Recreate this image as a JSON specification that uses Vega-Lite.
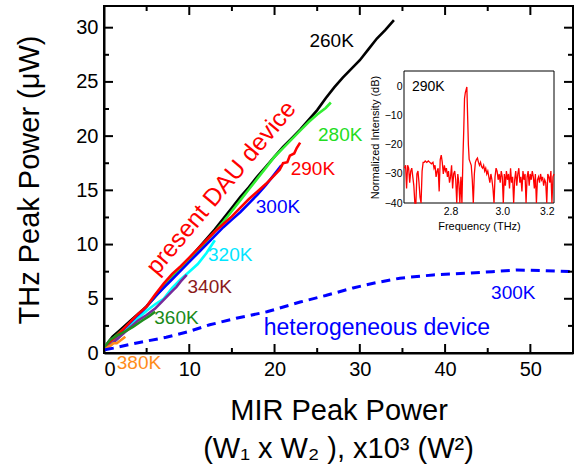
{
  "$schema": "https://vega.github.io/schema/vega-lite/v6.json",
  "width": 469,
  "height": 347,
  "autosize": {"type": "none"},
  "padding": {"left": 104, "top": 6, "right": 6, "bottom": 117},
  "config": {
    "font": "Liberation Sans",
    "view": {"stroke": null},
    "tick": {"opacity": 1},
    "axis": {"grid": false, "domainColor": "black", "tickColor": "black", "labelColor": "black", "titleColor": "black", "titleFontWeight": "normal", "labelFont": "Liberation Sans", "titleFont": "Liberation Sans"}
  },
  "title": {"text": "(W₁ x W₂ ), x10³ (W²)", "orient": "bottom", "fontSize": 29, "fontWeight": "normal", "font": "Liberation Sans", "color": "black", "offset": 10},
  "datasets": {
    "curves": [
      {"s": "260K", "x": 0, "y": 0.3}, {"s": "260K", "x": 0.5, "y": 1.0}, {"s": "260K", "x": 1, "y": 1.5}, {"s": "260K", "x": 2, "y": 2.2}, {"s": "260K", "x": 3, "y": 2.9}, {"s": "260K", "x": 4, "y": 3.6}, {"s": "260K", "x": 5, "y": 4.3}, {"s": "260K", "x": 6, "y": 5.2}, {"s": "260K", "x": 7, "y": 6.1}, {"s": "260K", "x": 8, "y": 7.0}, {"s": "260K", "x": 9, "y": 7.9}, {"s": "260K", "x": 10, "y": 8.7}, {"s": "260K", "x": 11, "y": 9.6}, {"s": "260K", "x": 12, "y": 10.5}, {"s": "260K", "x": 13, "y": 11.4}, {"s": "260K", "x": 14, "y": 12.4}, {"s": "260K", "x": 15, "y": 13.4}, {"s": "260K", "x": 16, "y": 14.4}, {"s": "260K", "x": 17, "y": 15.3}, {"s": "260K", "x": 18, "y": 16.3}, {"s": "260K", "x": 19, "y": 17.2}, {"s": "260K", "x": 20, "y": 18.1}, {"s": "260K", "x": 21, "y": 19.0}, {"s": "260K", "x": 22, "y": 19.8}, {"s": "260K", "x": 23, "y": 20.6}, {"s": "260K", "x": 24, "y": 21.5}, {"s": "260K", "x": 25, "y": 22.4}, {"s": "260K", "x": 26, "y": 23.5}, {"s": "260K", "x": 27, "y": 24.5}, {"s": "260K", "x": 28, "y": 25.4}, {"s": "260K", "x": 29, "y": 26.2}, {"s": "260K", "x": 30, "y": 27.0}, {"s": "260K", "x": 31, "y": 28.0}, {"s": "260K", "x": 32, "y": 29.0}, {"s": "260K", "x": 33, "y": 29.8}, {"s": "260K", "x": 34, "y": 30.7},
      {"s": "280K", "x": 0, "y": 0.5}, {"s": "280K", "x": 1, "y": 1.3}, {"s": "280K", "x": 2, "y": 2.0}, {"s": "280K", "x": 3, "y": 2.7}, {"s": "280K", "x": 4, "y": 3.5}, {"s": "280K", "x": 5, "y": 4.3}, {"s": "280K", "x": 6, "y": 5.2}, {"s": "280K", "x": 7, "y": 6.1}, {"s": "280K", "x": 8, "y": 7.0}, {"s": "280K", "x": 9, "y": 7.8}, {"s": "280K", "x": 10, "y": 8.6}, {"s": "280K", "x": 11, "y": 9.4}, {"s": "280K", "x": 12, "y": 10.3}, {"s": "280K", "x": 13, "y": 11.2}, {"s": "280K", "x": 14, "y": 12.1}, {"s": "280K", "x": 15, "y": 13.1}, {"s": "280K", "x": 16, "y": 14.1}, {"s": "280K", "x": 17, "y": 15.1}, {"s": "280K", "x": 18, "y": 16.1}, {"s": "280K", "x": 19, "y": 17.1}, {"s": "280K", "x": 20, "y": 18.1}, {"s": "280K", "x": 21, "y": 18.9}, {"s": "280K", "x": 22, "y": 19.7}, {"s": "280K", "x": 23, "y": 20.5}, {"s": "280K", "x": 24, "y": 21.3}, {"s": "280K", "x": 25, "y": 22.0}, {"s": "280K", "x": 26, "y": 22.6}, {"s": "280K", "x": 26.6, "y": 23.1},
      {"s": "300K", "x": 0, "y": 0.3}, {"s": "300K", "x": 1, "y": 1.0}, {"s": "300K", "x": 2, "y": 1.8}, {"s": "300K", "x": 3, "y": 2.6}, {"s": "300K", "x": 4, "y": 3.4}, {"s": "300K", "x": 5, "y": 4.3}, {"s": "300K", "x": 6, "y": 5.2}, {"s": "300K", "x": 7, "y": 6.0}, {"s": "300K", "x": 8, "y": 6.8}, {"s": "300K", "x": 9, "y": 7.6}, {"s": "300K", "x": 10, "y": 8.4}, {"s": "300K", "x": 11, "y": 9.2}, {"s": "300K", "x": 12, "y": 10.0}, {"s": "300K", "x": 13, "y": 10.8}, {"s": "300K", "x": 14, "y": 11.6}, {"s": "300K", "x": 15, "y": 12.3}, {"s": "300K", "x": 16, "y": 13.0}, {"s": "300K", "x": 17, "y": 13.8}, {"s": "300K", "x": 18, "y": 14.6}, {"s": "300K", "x": 19, "y": 15.5}, {"s": "300K", "x": 20, "y": 16.5}, {"s": "300K", "x": 20.8, "y": 17.3},
      {"s": "290K", "x": 0, "y": 0.4}, {"s": "290K", "x": 1, "y": 1.2}, {"s": "290K", "x": 2, "y": 2.0}, {"s": "290K", "x": 3, "y": 2.8}, {"s": "290K", "x": 4, "y": 3.6}, {"s": "290K", "x": 5, "y": 4.3}, {"s": "290K", "x": 6, "y": 5.4}, {"s": "290K", "x": 7, "y": 6.4}, {"s": "290K", "x": 8, "y": 7.3}, {"s": "290K", "x": 9, "y": 8.0}, {"s": "290K", "x": 10, "y": 8.8}, {"s": "290K", "x": 11, "y": 9.6}, {"s": "290K", "x": 12, "y": 10.4}, {"s": "290K", "x": 13, "y": 11.2}, {"s": "290K", "x": 14, "y": 11.9}, {"s": "290K", "x": 15, "y": 12.6}, {"s": "290K", "x": 16, "y": 13.4}, {"s": "290K", "x": 17, "y": 14.2}, {"s": "290K", "x": 18, "y": 14.9}, {"s": "290K", "x": 19, "y": 15.6}, {"s": "290K", "x": 20, "y": 16.4}, {"s": "290K", "x": 20.6, "y": 16.9}, {"s": "290K", "x": 21, "y": 17.5}, {"s": "290K", "x": 21.5, "y": 17.6}, {"s": "290K", "x": 21.8, "y": 18.2}, {"s": "290K", "x": 22.3, "y": 18.4}, {"s": "290K", "x": 22.6, "y": 18.9}, {"s": "290K", "x": 23, "y": 19.4},
      {"s": "320K", "x": 0, "y": 0.2}, {"s": "320K", "x": 1, "y": 0.9}, {"s": "320K", "x": 2, "y": 1.6}, {"s": "320K", "x": 3, "y": 2.4}, {"s": "320K", "x": 4, "y": 3.2}, {"s": "320K", "x": 5, "y": 3.9}, {"s": "320K", "x": 6, "y": 4.5}, {"s": "320K", "x": 7, "y": 5.0}, {"s": "320K", "x": 8, "y": 6.0}, {"s": "320K", "x": 9, "y": 6.8}, {"s": "320K", "x": 10, "y": 7.5}, {"s": "320K", "x": 11, "y": 8.2}, {"s": "320K", "x": 12, "y": 9.2}, {"s": "320K", "x": 12.5, "y": 9.8}, {"s": "320K", "x": 13, "y": 10.4},
      {"s": "340K", "x": 0, "y": 0.2}, {"s": "340K", "x": 1, "y": 0.9}, {"s": "340K", "x": 2, "y": 1.6}, {"s": "340K", "x": 3, "y": 2.3}, {"s": "340K", "x": 4, "y": 3.0}, {"s": "340K", "x": 5, "y": 3.5}, {"s": "340K", "x": 6, "y": 4.1}, {"s": "340K", "x": 7, "y": 4.9}, {"s": "340K", "x": 8, "y": 5.7}, {"s": "340K", "x": 8.5, "y": 6.1}, {"s": "340K", "x": 9, "y": 6.6}, {"s": "340K", "x": 9.7, "y": 7.2},
      {"s": "360K", "x": 0, "y": 0.5}, {"s": "360K", "x": 0.7, "y": 1.2}, {"s": "360K", "x": 1.5, "y": 1.6}, {"s": "360K", "x": 2.5, "y": 2.0}, {"s": "360K", "x": 3.4, "y": 2.4}, {"s": "360K", "x": 4.5, "y": 3.0}, {"s": "360K", "x": 5.3, "y": 3.4}, {"s": "360K", "x": 6.0, "y": 3.8},
      {"s": "380K", "x": 0, "y": 0.2}, {"s": "380K", "x": 0.4, "y": 0.5}, {"s": "380K", "x": 0.8, "y": 0.7}, {"s": "380K", "x": 1.1, "y": 0.9}, {"s": "380K", "x": 1.5, "y": 0.9}, {"s": "380K", "x": 2.0, "y": 1.2}, {"s": "380K", "x": 2.5, "y": 1.5}
    ],
    "hetero": [
      {"x": 0.1, "y": 0.3}, {"x": 1.1, "y": 0.45}, {"x": 4, "y": 0.95}, {"x": 7.3, "y": 1.45}, {"x": 10, "y": 2.0}, {"x": 12.4, "y": 2.6}, {"x": 15.5, "y": 3.2}, {"x": 19.1, "y": 3.8}, {"x": 23, "y": 4.7}, {"x": 26, "y": 5.3}, {"x": 29.2, "y": 6.0}, {"x": 32, "y": 6.5}, {"x": 34.7, "y": 6.9}, {"x": 38.6, "y": 7.2}, {"x": 42.5, "y": 7.35}, {"x": 45.5, "y": 7.5}, {"x": 48.4, "y": 7.65}, {"x": 51.5, "y": 7.6}, {"x": 55, "y": 7.5}
    ],
    "labels": [
      {"t": "260K", "x": 26.7, "y": 28.8}, {"t": "280K", "x": 27.7, "y": 20.1}, {"t": "290K", "x": 24.5, "y": 17.0}, {"t": "300K", "x": 20.4, "y": 13.5}, {"t": "320K", "x": 14.8, "y": 9.0}, {"t": "340K", "x": 12.4, "y": 6.1}, {"t": "360K", "x": 8.5, "y": 3.2}, {"t": "380K", "x": 4.1, "y": -0.95}, {"t": "300K", "x": 48.0, "y": 5.5}
    ],
    "xticks": [
      {"x": 0, "y": 0, "k": "major"}, {"x": 5, "y": 0, "k": "minor"}, {"x": 10, "y": 0, "k": "major"}, {"x": 15, "y": 0, "k": "minor"}, {"x": 20, "y": 0, "k": "major"}, {"x": 25, "y": 0, "k": "minor"}, {"x": 30, "y": 0, "k": "major"}, {"x": 35, "y": 0, "k": "minor"}, {"x": 40, "y": 0, "k": "major"}, {"x": 45, "y": 0, "k": "minor"}, {"x": 50, "y": 0, "k": "major"},
      {"x": 0, "y": 32, "k": "major"}, {"x": 5, "y": 32, "k": "minor"}, {"x": 10, "y": 32, "k": "major"}, {"x": 15, "y": 32, "k": "minor"}, {"x": 20, "y": 32, "k": "major"}, {"x": 25, "y": 32, "k": "minor"}, {"x": 30, "y": 32, "k": "major"}, {"x": 35, "y": 32, "k": "minor"}, {"x": 40, "y": 32, "k": "major"}, {"x": 45, "y": 32, "k": "minor"}, {"x": 50, "y": 32, "k": "major"}
    ],
    "yticks": [
      {"y": 0, "x": 0, "k": "major"}, {"y": 2.5, "x": 0, "k": "minor"}, {"y": 5, "x": 0, "k": "major"}, {"y": 7.5, "x": 0, "k": "minor"}, {"y": 10, "x": 0, "k": "major"}, {"y": 12.5, "x": 0, "k": "minor"}, {"y": 15, "x": 0, "k": "major"}, {"y": 17.5, "x": 0, "k": "minor"}, {"y": 20, "x": 0, "k": "major"}, {"y": 22.5, "x": 0, "k": "minor"}, {"y": 25, "x": 0, "k": "major"}, {"y": 27.5, "x": 0, "k": "minor"}, {"y": 30, "x": 0, "k": "major"},
      {"y": 0, "x": 55, "k": "major"}, {"y": 2.5, "x": 55, "k": "minor"}, {"y": 5, "x": 55, "k": "major"}, {"y": 7.5, "x": 55, "k": "minor"}, {"y": 10, "x": 55, "k": "major"}, {"y": 12.5, "x": 55, "k": "minor"}, {"y": 15, "x": 55, "k": "major"}, {"y": 17.5, "x": 55, "k": "minor"}, {"y": 20, "x": 55, "k": "major"}, {"y": 22.5, "x": 55, "k": "minor"}, {"y": 25, "x": 55, "k": "major"}, {"y": 27.5, "x": 55, "k": "minor"}, {"y": 30, "x": 55, "k": "major"}
    ],
    "spectrum": [
      {"f": 2.622, "d": -28}, {"f": 2.626, "d": -27}, {"f": 2.630, "d": -35}, {"f": 2.634, "d": -27}, {"f": 2.638, "d": -28}, {"f": 2.642, "d": -33}, {"f": 2.646, "d": -29}, {"f": 2.650, "d": -28}, {"f": 2.654, "d": -31}, {"f": 2.658, "d": -34}, {"f": 2.662, "d": -40}, {"f": 2.666, "d": -40}, {"f": 2.670, "d": -30}, {"f": 2.674, "d": -29}, {"f": 2.678, "d": -33}, {"f": 2.682, "d": -38}, {"f": 2.686, "d": -40}, {"f": 2.690, "d": -29}, {"f": 2.694, "d": -26}, {"f": 2.698, "d": -26}, {"f": 2.702, "d": -25.5}, {"f": 2.708, "d": -26}, {"f": 2.714, "d": -25.5}, {"f": 2.720, "d": -26}, {"f": 2.726, "d": -26.5}, {"f": 2.732, "d": -26}, {"f": 2.736, "d": -28}, {"f": 2.740, "d": -27}, {"f": 2.744, "d": -31}, {"f": 2.748, "d": -29}, {"f": 2.752, "d": -28}, {"f": 2.756, "d": -36}, {"f": 2.760, "d": -25}, {"f": 2.764, "d": -23.5}, {"f": 2.768, "d": -26}, {"f": 2.772, "d": -30}, {"f": 2.776, "d": -27}, {"f": 2.780, "d": -29}, {"f": 2.784, "d": -28}, {"f": 2.788, "d": -31}, {"f": 2.792, "d": -29}, {"f": 2.796, "d": -33}, {"f": 2.800, "d": -31}, {"f": 2.804, "d": -27}, {"f": 2.808, "d": -35}, {"f": 2.812, "d": -30}, {"f": 2.816, "d": -29}, {"f": 2.820, "d": -32}, {"f": 2.824, "d": -40}, {"f": 2.828, "d": -30}, {"f": 2.832, "d": -33}, {"f": 2.836, "d": -40}, {"f": 2.840, "d": -31}, {"f": 2.844, "d": -40}, {"f": 2.848, "d": -24}, {"f": 2.851, "d": -15}, {"f": 2.854, "d": -4}, {"f": 2.857, "d": -2}, {"f": 2.860, "d": -1}, {"f": 2.863, "d": 0}, {"f": 2.866, "d": -10}, {"f": 2.869, "d": -20}, {"f": 2.872, "d": -25}, {"f": 2.876, "d": -26}, {"f": 2.880, "d": -27}, {"f": 2.884, "d": -32}, {"f": 2.888, "d": -40}, {"f": 2.892, "d": -30}, {"f": 2.896, "d": -26}, {"f": 2.900, "d": -25}, {"f": 2.904, "d": -24.5}, {"f": 2.908, "d": -26}, {"f": 2.912, "d": -27}, {"f": 2.916, "d": -26}, {"f": 2.920, "d": -27.5}, {"f": 2.924, "d": -28}, {"f": 2.928, "d": -27}, {"f": 2.932, "d": -29}, {"f": 2.936, "d": -28}, {"f": 2.940, "d": -30}, {"f": 2.944, "d": -29}, {"f": 2.948, "d": -31}, {"f": 2.952, "d": -33}, {"f": 2.956, "d": -30}, {"f": 2.960, "d": -32}, {"f": 2.964, "d": -35}, {"f": 2.968, "d": -40}, {"f": 2.972, "d": -31}, {"f": 2.976, "d": -28}, {"f": 2.980, "d": -29}, {"f": 2.984, "d": -32}, {"f": 2.988, "d": -30}, {"f": 2.992, "d": -33}, {"f": 2.996, "d": -29}, {"f": 3.000, "d": -31}, {"f": 3.004, "d": -40}, {"f": 3.008, "d": -30}, {"f": 3.012, "d": -34}, {"f": 3.016, "d": -29}, {"f": 3.020, "d": -32}, {"f": 3.024, "d": -30}, {"f": 3.028, "d": -35}, {"f": 3.032, "d": -28}, {"f": 3.036, "d": -33}, {"f": 3.040, "d": -31}, {"f": 3.044, "d": -40}, {"f": 3.048, "d": -32}, {"f": 3.052, "d": -29}, {"f": 3.056, "d": -34}, {"f": 3.060, "d": -30}, {"f": 3.064, "d": -28}, {"f": 3.068, "d": -33}, {"f": 3.072, "d": -31}, {"f": 3.076, "d": -36}, {"f": 3.080, "d": -29}, {"f": 3.084, "d": -32}, {"f": 3.088, "d": -30}, {"f": 3.092, "d": -40}, {"f": 3.096, "d": -31}, {"f": 3.100, "d": -29}, {"f": 3.104, "d": -34}, {"f": 3.108, "d": -30}, {"f": 3.112, "d": -32}, {"f": 3.116, "d": -29}, {"f": 3.120, "d": -31}, {"f": 3.124, "d": -35}, {"f": 3.128, "d": -30}, {"f": 3.132, "d": -40}, {"f": 3.136, "d": -32}, {"f": 3.140, "d": -31}, {"f": 3.144, "d": -33}, {"f": 3.148, "d": -30}, {"f": 3.152, "d": -32}, {"f": 3.156, "d": -31}, {"f": 3.160, "d": -34}, {"f": 3.164, "d": -32}, {"f": 3.168, "d": -33}, {"f": 3.172, "d": -40}, {"f": 3.176, "d": -30}, {"f": 3.180, "d": -31}, {"f": 3.184, "d": -33}, {"f": 3.188, "d": -29}, {"f": 3.192, "d": -40}, {"f": 3.196, "d": -31}, {"f": 3.200, "d": -30}
    ]
  },
  "layer": [
    {
      "layer": [
        {
          "data": {"name": "curves"},
          "mark": {"type": "line", "strokeWidth": 2.6},
          "encoding": {
            "x": {"field": "x", "type": "quantitative", "scale": {"domain": [0, 55], "nice": false, "zero": false},
              "axis": {"orient": "bottom", "values": [0, 10, 20, 30, 40, 50], "ticks": false, "domain": true, "domainWidth": 2, "labelPadding": 6, "labelFontSize": 20, "title": "MIR Peak Power", "titleFontSize": 29, "titlePadding": 17}},
            "y": {"field": "y", "type": "quantitative", "scale": {"domain": [0, 32], "nice": false, "zero": false},
              "axis": {"orient": "left", "values": [0, 5, 10, 15, 20, 25, 30], "ticks": false, "domain": true, "domainWidth": 2, "labelPadding": 6, "labelFontSize": 20, "title": "THz Peak Power (μW)", "titleFontSize": 29, "titlePadding": 31}},
            "color": {"field": "s", "type": "nominal", "legend": null,
              "scale": {"domain": ["260K", "280K", "300K", "290K", "320K", "340K", "360K", "380K"], "range": ["#000000", "#33ee33", "#0000ff", "#ff0000", "#00ffff", "#7a2a9a", "#1f8f1f", "#ff8c1a"]}}
          }
        },
        {
          "data": {"name": "hetero"},
          "mark": {"type": "line", "strokeWidth": 3, "strokeDash": [9, 6], "color": "#0000ff"},
          "encoding": {
            "x": {"field": "x", "type": "quantitative", "scale": {"domain": [0, 55], "nice": false, "zero": false}},
            "y": {"field": "y", "type": "quantitative", "scale": {"domain": [0, 32], "nice": false, "zero": false}}
          }
        },
        {
          "data": {"name": "labels"},
          "mark": {"type": "text", "fontSize": 19, "align": "center", "baseline": "middle"},
          "encoding": {
            "x": {"field": "x", "type": "quantitative", "scale": {"domain": [0, 55], "nice": false, "zero": false}},
            "y": {"field": "y", "type": "quantitative", "scale": {"domain": [0, 32], "nice": false, "zero": false}},
            "text": {"field": "t", "type": "nominal"},
            "fill": {"field": "t", "type": "nominal", "legend": null,
              "scale": {"domain": ["260K", "280K", "290K", "300K", "320K", "340K", "360K", "380K"], "range": ["#000000", "#22dd22", "#ff0000", "#0000ff", "#00e5ff", "#8b1a1a", "#1a8a1a", "#ff8c1a"]}}
          }
        },
        {
          "data": {"values": [{"t": "present DAU device", "x": 13.8, "y": 15.2}]},
          "mark": {"type": "text", "fontSize": 24.5, "angle": 310, "align": "center", "baseline": "middle", "color": "#ff0000"},
          "encoding": {
            "x": {"field": "x", "type": "quantitative", "scale": {"domain": [0, 55], "nice": false, "zero": false}},
            "y": {"field": "y", "type": "quantitative", "scale": {"domain": [0, 32], "nice": false, "zero": false}},
            "text": {"field": "t", "type": "nominal"}
          }
        },
        {
          "data": {"values": [{"t": "heterogeneous device", "x": 32.0, "y": 2.3}]},
          "mark": {"type": "text", "fontSize": 23, "align": "center", "baseline": "middle", "color": "#0000ff"},
          "encoding": {
            "x": {"field": "x", "type": "quantitative", "scale": {"domain": [0, 55], "nice": false, "zero": false}},
            "y": {"field": "y", "type": "quantitative", "scale": {"domain": [0, 32], "nice": false, "zero": false}},
            "text": {"field": "t", "type": "nominal"}
          }
        },
        {
          "data": {"name": "xticks"},
          "mark": {"type": "tick", "orient": "vertical", "thickness": 2, "clip": true, "color": "black", "opacity": 1},
          "encoding": {
            "x": {"field": "x", "type": "quantitative", "scale": {"domain": [0, 55], "nice": false, "zero": false}},
            "y": {"field": "y", "type": "quantitative", "scale": {"domain": [0, 32], "nice": false, "zero": false}},
            "size": {"field": "k", "type": "ordinal", "legend": null, "scale": {"domain": ["major", "minor"], "range": [18, 10]}}
          }
        },
        {
          "data": {"name": "yticks"},
          "mark": {"type": "tick", "orient": "horizontal", "thickness": 2, "clip": true, "color": "black", "opacity": 1},
          "encoding": {
            "x": {"field": "x", "type": "quantitative", "scale": {"domain": [0, 55], "nice": false, "zero": false}},
            "y": {"field": "y", "type": "quantitative", "scale": {"domain": [0, 32], "nice": false, "zero": false}},
            "size": {"field": "k", "type": "ordinal", "legend": null, "scale": {"domain": ["major", "minor"], "range": [18, 10]}}
          }
        },
        {
          "data": {"values": [{"x": 0, "x2": 55, "y": 0, "y2": 32}]},
          "mark": {"type": "rect", "filled": false, "color": "black", "strokeWidth": 2},
          "encoding": {
            "x": {"field": "x", "type": "quantitative", "scale": {"domain": [0, 55], "nice": false, "zero": false}},
            "x2": {"field": "x2"},
            "y": {"field": "y", "type": "quantitative", "scale": {"domain": [0, 32], "nice": false, "zero": false}},
            "y2": {"field": "y2"}
          }
        }
      ]
    },
    {
      "layer": [
        {
          "data": {"values": [{"f": 2.62, "f2": 3.2, "d": -40, "d2": 5.5}]},
          "mark": {"type": "rect", "fill": "white", "stroke": "black", "strokeWidth": 1},
          "encoding": {
            "x": {"field": "f", "type": "quantitative", "scale": {"domain": [2.62, 3.2], "range": [300, 450], "nice": false, "zero": false},
              "axis": {"orient": "bottom", "offset": -150, "values": [2.8, 3.0, 3.2], "format": ".1f", "ticks": false, "domain": false, "labelPadding": 3, "labelFontSize": 10.5, "title": "Frequency (THz)", "titleFontSize": 11, "titlePadding": 4}},
            "x2": {"field": "f2"},
            "y": {"field": "d", "type": "quantitative", "scale": {"domain": [-40, 5.5], "range": [197, 65], "nice": false, "zero": false},
              "axis": {"orient": "left", "offset": -300, "values": [-40, -30, -20, -10, 0], "ticks": false, "domain": false, "labelPadding": 2, "labelFontSize": 10.5, "title": "Normalized Intensity (dB)", "titleFontSize": 11, "titlePadding": 4}},
            "y2": {"field": "d2"}
          }
        },
        {
          "data": {"name": "spectrum"},
          "mark": {"type": "line", "strokeWidth": 1.3, "color": "#ff0000"},
          "encoding": {
            "x": {"field": "f", "type": "quantitative", "scale": {"domain": [2.62, 3.2], "range": [300, 450], "nice": false, "zero": false}},
            "y": {"field": "d", "type": "quantitative", "scale": {"domain": [-40, 5.5], "range": [197, 65], "nice": false, "zero": false}}
          }
        },
        {
          "data": {"values": [{"t": "290K", "f": 2.714, "d": 0.1}]},
          "mark": {"type": "text", "fontSize": 14, "align": "center", "baseline": "middle", "color": "black"},
          "encoding": {
            "x": {"field": "f", "type": "quantitative", "scale": {"domain": [2.62, 3.2], "range": [300, 450], "nice": false, "zero": false}},
            "y": {"field": "d", "type": "quantitative", "scale": {"domain": [-40, 5.5], "range": [197, 65], "nice": false, "zero": false}},
            "text": {"field": "t", "type": "nominal"}
          }
        }
      ]
    }
  ],
  "resolve": {"scale": {"x": "independent", "y": "independent"}}
}
